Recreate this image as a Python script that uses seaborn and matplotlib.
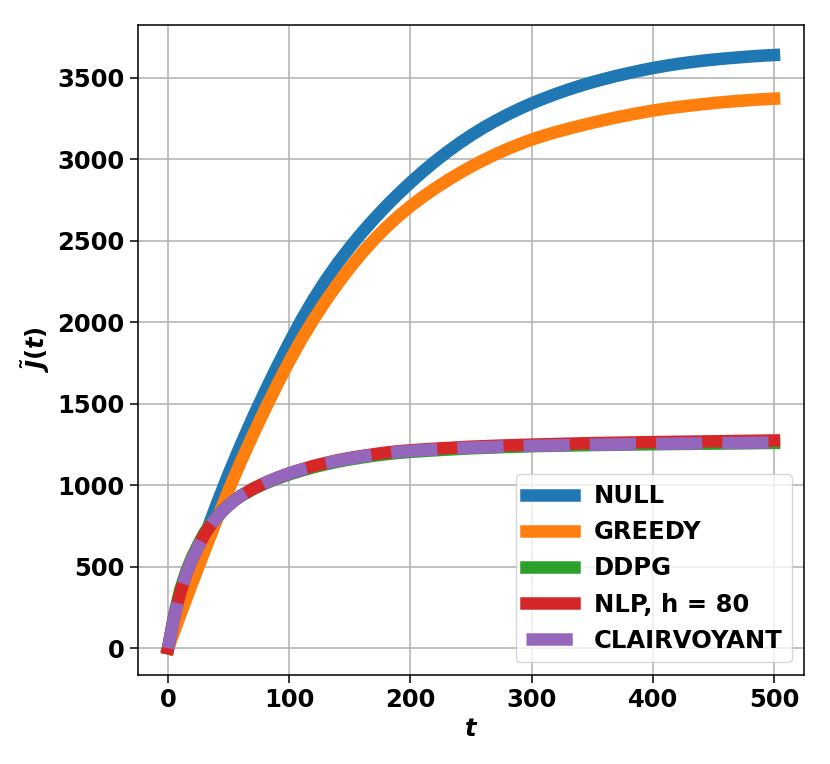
import matplotlib
matplotlib.use('Agg')
import matplotlib.pyplot as plt
import seaborn as sns

# values
t_high = list(range(0, 501, 10))
null_cost = [0, 240, 467, 681, 882, 1071, 1249, 1417, 1577, 1730,
             1876, 2015, 2142, 2258, 2364, 2461, 2551, 2635, 2714, 2788,
             2858, 2924, 2986, 3044, 3098, 3148, 3194, 3236, 3275, 3311,
             3344, 3374, 3402, 3428, 3452, 3474, 3494, 3513, 3530, 3546,
             3561, 3574, 3586, 3596, 3605, 3613, 3620, 3626, 3632, 3637,
             3641]
greedy_cost = [0, 203, 401, 595, 785, 971, 1145, 1309, 1466, 1617,
               1761, 1895, 2017, 2131, 2237, 2335, 2425, 2508, 2583, 2651,
               2713, 2769, 2821, 2869, 2914, 2956, 2995, 3031, 3064, 3094,
               3122, 3146, 3168, 3188, 3207, 3225, 3242, 3258, 3273, 3287,
               3300, 3311, 3321, 3330, 3338, 3346, 3353, 3359, 3364, 3369,
               3373]

t_low = [0, 5, 10, 15, 20, 25, 30, 35, 40, 45, 50, 55, 60, 70, 80, 90, 100,
         110, 120, 130, 140, 150, 160, 170, 180, 190, 200, 225, 250, 275, 300,
         350, 400, 450, 500]
ddpg_cost = [0, 205, 358, 472, 563, 638, 708, 760, 805, 845, 879, 909, 934,
             976, 1011, 1041, 1067, 1090, 1111, 1129, 1145, 1159, 1171, 1182,
             1191, 1199, 1205, 1217, 1227, 1234, 1240, 1247, 1252, 1256, 1260]
nlp_cost = [0, 190, 340, 455, 548, 625, 698, 753, 800, 842, 878, 909, 936,
            979, 1015, 1046, 1074, 1097, 1119, 1137, 1154, 1168, 1180, 1191,
            1201, 1209, 1215, 1227, 1237, 1244, 1250, 1259, 1265, 1270, 1275]
clair_cost = [0, 190, 340, 455, 548, 625, 698, 753, 800, 842, 878, 909, 936,
              979, 1015, 1046, 1073, 1096, 1117, 1135, 1151, 1165, 1177, 1188,
              1197, 1205, 1211, 1222, 1231, 1237, 1242, 1249, 1254, 1258, 1262]

plt.rcParams['font.size'] = 17.5
plt.rcParams['font.weight'] = 'bold'
plt.rcParams['mathtext.fontset'] = 'dejavusans'

fig, ax = plt.subplots(figsize=(8.3, 7.64), dpi=100)
fig.subplots_adjust(left=0.166, right=0.969, bottom=0.117, top=0.967)

lw = 9
sns.lineplot(x=t_high, y=null_cost, ax=ax, color='#1f77b4', lw=lw, label='NULL')
sns.lineplot(x=t_high, y=greedy_cost, ax=ax, color='#ff7f0e', lw=lw, label='GREEDY')
sns.lineplot(x=t_low, y=ddpg_cost, ax=ax, color='#2ca02c', lw=lw, label='DDPG')
sns.lineplot(x=t_low, y=nlp_cost, ax=ax, color='#d62728', lw=lw, label='NLP, h = 80')
sns.lineplot(x=t_low, y=clair_cost, ax=ax, color='#9467bd', lw=lw, linestyle='--',
             label='CLAIRVOYANT')

ax.set_xlim(-25, 525)
ax.set_ylim(-162, 3824)
ax.set_xticks([0, 100, 200, 300, 400, 500])
ax.set_yticks([0, 500, 1000, 1500, 2000, 2500, 3000, 3500])
ax.grid(True, color='#b0b0b0', lw=1.1)
ax.set_axisbelow(True)
ax.tick_params(length=6, width=1.1)
for s in ax.spines.values():
    s.set_linewidth(1.1)

ax.set_xlabel(r'$\boldsymbol{t}$', fontsize=17.5)
ax.set_ylabel(r'$\boldsymbol{\tilde{J}(t)}$', fontsize=17.5)

ax.legend(loc='lower right', prop={'weight': 'bold', 'size': 17.5})

plt.savefig('out.png', dpi=100)
